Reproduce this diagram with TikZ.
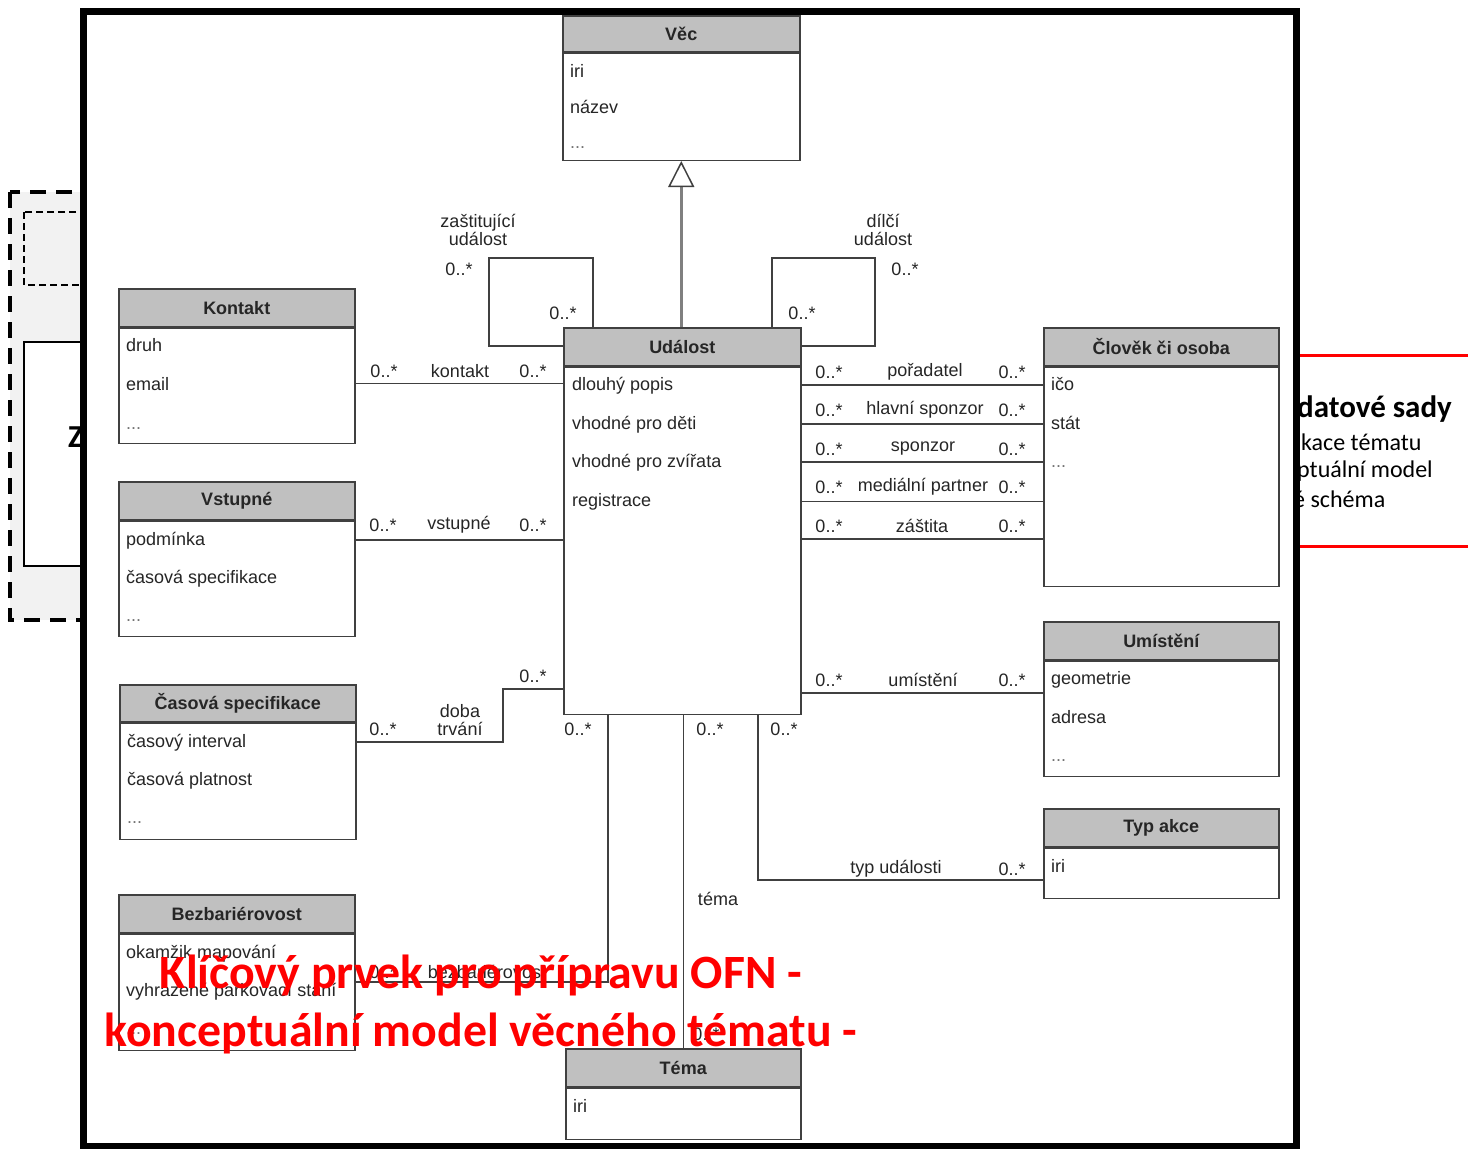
\documentclass[tikz,border=0pt]{standalone}
\usepackage{fontspec}
\setmainfont{Liberation Sans}
\newfontfamily\calibri{Carlito}
\usetikzlibrary{arrows.meta}
\definecolor{hdrgray}{RGB}{192,192,192}
\definecolor{boxline}{RGB}{64,64,64}
\definecolor{genline}{RGB}{128,128,128}
\definecolor{leftgray}{RGB}{242,242,242}
\begin{document}
\begin{tikzpicture}[x=1pt,y=1pt,yscale=-1,xscale=1,
    hdr/.style={draw=boxline,fill=hdrgray,line width=1.5pt,anchor=north west,inner sep=0pt,minimum height=38pt,font=\fontsize{18}{20}\selectfont\bfseries,text=black!85},
    body/.style={draw=boxline,fill=white,line width=1.5pt,anchor=north west,inner sep=0pt},
    attr/.style={anchor=base west,inner sep=0pt,font=\fontsize{18}{20}\selectfont,text=black!85},
    dots/.style={attr,text=black!55},
    lbl/.style={inner sep=0pt,font=\fontsize{18}{20}\selectfont,text=black!85,align=center},
    assoc/.style={draw=boxline,line width=1.5pt}]
        \useasboundingbox (0,0) rectangle (1468,1149);
        %Shape: Rectangle (slide behind, left)
        \draw [fill=leftgray,line width=4pt,dash pattern=on 16pt off 10pt] (10,192) rectangle (120,620);
        \draw [line width=2.5pt,dash pattern=on 7pt off 4pt] (24,212) rectangle (120,285);
        \draw [fill=white,line width=2pt] (24,342) rectangle (120,566);
        % Text Node
        \node [anchor=west,inner sep=0pt,font=\calibri\bfseries\fontsize{32}{34}\selectfont] (zleft) at (68,437) {Z};
        %Straight Lines (slide behind, right)
        \draw [red,line width=3pt] (1290,355) -- (1468,355);
        \draw [red,line width=3pt] (1290,546) -- (1468,546);
        % Text Node
        \node [anchor=west,inner sep=0pt,font=\calibri\bfseries\fontsize{31}{34}\selectfont] (sady) at (1297,409) {datové sady};
        \node [anchor=west,inner sep=0pt,font=\calibri\fontsize{24}{26}\selectfont] (spec) at (1301,442) {kace tématu};
        \node [anchor=west,inner sep=0pt,font=\calibri\fontsize{24}{26}\selectfont] (konc) at (1297,471) {ptuální model};
        \node [anchor=west,inner sep=0pt,font=\calibri\fontsize{24}{26}\selectfont] (schema) at (1293,499) {é schéma};
        %Shape: Rectangle (frame)
        \draw [fill=white,line width=7pt] (83.5,11.5) rectangle (1296.5,1146);

        %Shape: Class Věc
        \node [hdr,minimum width=237pt,minimum height=36pt] (vec) at (562,15) {Věc};
        \node [body,minimum width=237pt,minimum height=107pt] (vec-b) at (vec.south west) {};
        \node [attr] (vec-a1) at (570,77) {iri};
        \node [attr] (vec-a2) at (570,113) {název};
        \node [dots] (vec-a3) at (570,148) {...};
        %Shape: Class Událost
        \node [hdr,minimum width=237pt] (udalost) at (563,327) {Událost};
        \node [body,minimum width=237pt,minimum height=347pt] (udalost-b) at (udalost.south west) {};
        \node [attr] (udalost-a1) at (572,390) {dlouhý popis};
        \node [attr] (udalost-a2) at (572,429) {vhodné pro děti};
        \node [attr] (udalost-a3) at (572,467) {vhodné pro zvířata};
        \node [attr] (udalost-a4) at (572,506) {registrace};
        %Shape: Class Kontakt
        \node [hdr,minimum width=236pt] (kontakt) at (118,288) {Kontakt};
        \node [body,minimum width=236pt,minimum height=115pt] (kontakt-b) at (kontakt.south west) {};
        \node [attr] (kontakt-a1) at (126,351) {druh};
        \node [attr] (kontakt-a2) at (126,390) {email};
        \node [dots] (kontakt-a3) at (126,429) {...};
        %Shape: Class Vstupné
        \node [hdr,minimum width=236pt] (vstupne) at (118,481) {Vstupné};
        \node [body,minimum width=236pt,minimum height=115pt] (vstupne-b) at (vstupne.south west) {};
        \node [attr] (vstupne-a1) at (126,545) {podmínka};
        \node [attr] (vstupne-a2) at (126,583) {časová specifikace};
        \node [dots] (vstupne-a3) at (126,621) {...};
        %Shape: Class Časová specifikace
        \node [hdr,minimum width=236pt,minimum height=37pt] (casova) at (119,684) {Časová specifikace};
        \node [body,minimum width=236pt,minimum height=116pt] (casova-b) at (casova.south west) {};
        \node [attr] (casova-a1) at (127,747) {časový interval};
        \node [attr] (casova-a2) at (127,785) {časová platnost};
        \node [dots] (casova-a3) at (127,823) {...};
        %Shape: Class Bezbariérovost
        \node [hdr,minimum width=236pt] (bezbar) at (118,894) {Bezbariérovost};
        \node [body,minimum width=236pt,minimum height=116pt] (bezbar-b) at (bezbar.south west) {};
        \node [attr] (bezbar-a1) at (126,958) {okamžik mapování};
        \node [attr] (bezbar-a2) at (126,996) {vyhrazené parkovací stání};
        \node [dots] (bezbar-a3) at (126,1034) {...};
        %Shape: Class Člověk či osoba
        \node [hdr,minimum width=235pt] (clovek) at (1043,327) {Člověk či osoba};
        \node [body,minimum width=235pt,minimum height=219pt] (clovek-b) at (clovek.south west) {};
        \node [attr] (clovek-a1) at (1051,390) {ičo};
        \node [attr] (clovek-a2) at (1051,429) {stát};
        \node [dots] (clovek-a3) at (1051,467) {...};
        %Shape: Class Umístění
        \node [hdr,minimum width=235pt] (umisteni) at (1043,621) {Umístění};
        \node [body,minimum width=235pt,minimum height=115pt] (umisteni-b) at (umisteni.south west) {};
        \node [attr] (umisteni-a1) at (1051,684) {geometrie};
        \node [attr] (umisteni-a2) at (1051,723) {adresa};
        \node [dots] (umisteni-a3) at (1051,761) {...};
        %Shape: Class Typ akce
        \node [hdr,minimum width=235pt] (typ) at (1043,808) {Typ akce};
        \node [body,minimum width=235pt,minimum height=50pt] (typ-b) at (typ.south west) {};
        \node [attr] (typ-a1) at (1051,872) {iri};
        %Shape: Class Téma
        \node [hdr,minimum width=235pt] (tema) at (565,1048) {Téma};
        \node [body,minimum width=235pt,minimum height=51pt] (tema-b) at (tema.south west) {};
        \node [attr] (tema-a1) at (573,1112) {iri};

        %Straight Lines (generalization)
        \draw [genline,line width=2.5pt,-{Triangle[open,length=26pt,width=26pt,line width=1.5pt,color=boxline]}] (udalost.north -| vec-b.south) -- (vec-b.south);
        %Straight Lines (kontakt)
        \draw [assoc] (kontakt-b.east |- kontakt-a2.west) -- (udalost-b.west |- kontakt-a2.west);
        \node [lbl] (kon-m1) at (384,371) {0..*};
        \node [lbl] (kon-r) at (460,371) {kontakt};
        \node [lbl] (kon-m2) at (533,371) {0..*};
        %Straight Lines (vstupné)
        \draw [assoc] (vstupne-b.east |- vstupne-a1.west) -- (udalost-b.west |- vstupne-a1.west);
        \node [lbl] (vst-m1) at (383,525) {0..*};
        \node [lbl] (vst-r) at (459,525) {vstupné};
        \node [lbl] (vst-m2) at (533,525) {0..*};
        %Straight Lines (doba trvání)
        \coordinate (dt1) at (503,742);
        \coordinate (dt2) at (503,689);
        \draw [assoc] (casova-b.east |- dt1) -- (dt1) -- (dt2) -- (udalost-b.west |- dt2);
        \node [lbl] (dob-m1) at (383,729) {0..*};
        \node [lbl] (dob-r) at (460,720) {doba\\[-2pt]trvání};
        \node [lbl] (dob-m2) at (533,676) {0..*};
        %Straight Lines (zaštitující událost)
        \coordinate (za1) at (593,258);
        \coordinate (za2) at (489,346);
        \draw [assoc] (udalost.north -| za1) -- (za1) -| (za2) -- (udalost.west |- za2);
        \node [lbl] (zas-r) at (478,230) {zaštitující\\[-2pt]událost};
        \node [lbl] (zas-m1) at (459,269) {0..*};
        \node [lbl] (zas-m2) at (563,313) {0..*};
        %Straight Lines (dílčí událost)
        \coordinate (di1) at (772,258);
        \coordinate (di2) at (875,346);
        \draw [assoc] (udalost.north -| di1) -- (di1) -| (di2) -- (udalost.east |- di2);
        \node [lbl] (dil-r) at (883,230) {dílčí\\[-2pt]událost};
        \node [lbl] (dil-m1) at (905,269) {0..*};
        \node [lbl] (dil-m2) at (802,313) {0..*};
        %Straight Lines (Člověk či osoba)
        \coordinate (r5) at (800,539);
        \draw [assoc] (udalost-b.east |- udalost-a1.west) -- (clovek-b.west |- udalost-a1.west);
        \draw [assoc] (udalost-b.east |- udalost-a2.west) -- (clovek-b.west |- udalost-a2.west);
        \draw [assoc] (udalost-b.east |- udalost-a3.west) -- (clovek-b.west |- udalost-a3.west);
        \draw [assoc] (udalost-b.east |- udalost-a4.west) -- (clovek-b.west |- udalost-a4.west);
        \draw [assoc] (r5) -- (clovek-b.west |- r5);
        \node [lbl] (por-m1) at (829,372) {0..*};
        \node [lbl] (por-r) at (925,372) {pořadatel};
        \node [lbl] (por-m2) at (1012,372) {0..*};
        \node [lbl] (hla-m1) at (829,410) {0..*};
        \node [lbl] (hla-r) at (925,410) {hlavní sponzor};
        \node [lbl] (hla-m2) at (1012,410) {0..*};
        \node [lbl] (spo-m1) at (829,449) {0..*};
        \node [lbl] (spo-r) at (923,449) {sponzor};
        \node [lbl] (spo-m2) at (1012,449) {0..*};
        \node [lbl] (med-m1) at (829,487) {0..*};
        \node [lbl] (med-r) at (923,487) {mediální partner};
        \node [lbl] (med-m2) at (1012,487) {0..*};
        \node [lbl] (zat-m1) at (829,526) {0..*};
        \node [lbl] (zat-r) at (922,526) {záštita};
        \node [lbl] (zat-m2) at (1012,526) {0..*};
        %Straight Lines (umístění)
        \coordinate (um) at (800,693);
        \draw [assoc] (um) -- (umisteni-b.west |- um);
        \node [lbl] (umi-m1) at (829,680) {0..*};
        \node [lbl] (umi-r) at (923,680) {umístění};
        \node [lbl] (umi-m2) at (1012,680) {0..*};
        %Straight Lines (typ události)
        \coordinate (ty) at (758,880);
        \draw [assoc] (udalost-b.south -| ty) -- (ty) -- (typ-b.west |- ty);
        \node [lbl] (typ-m1) at (784,729) {0..*};
        \node [lbl] (typ-r) at (896,869) {typ události};
        \node [lbl] (typ-m2) at (1012,869) {0..*};
        %Straight Lines (téma)
        \draw [assoc] (udalost-b.south -| tema.north) -- (tema.north);
        \node [lbl] (tem-m1) at (710,729) {0..*};
        \node [lbl] (tem-r) at (718,899) {téma};
        \node [lbl] (tem-m2) at (706,1034) {0..*};
        %Straight Lines (bezbariérovost)
        \coordinate (bz) at (608,982);
        \draw [assoc] (udalost-b.south -| bz) -- (bz) -- (bezbar-b.east |- bz);
        \node [lbl] (bez-m1) at (578,729) {0..*};
        \node [lbl] (bez-m2) at (383,972) {0..*};
        \node [lbl] (bez-r) at (487,972) {bezbariérovost};

        % Text Node
        \node [red,inner sep=0pt,align=center,font=\calibri\bfseries\fontsize{47.8}{58}\selectfont] (ofn) at (481,1004) {Klíčový prvek pro přípravu OFN -\\konceptuální model věcného tématu -};
\end{tikzpicture}
\end{document}
